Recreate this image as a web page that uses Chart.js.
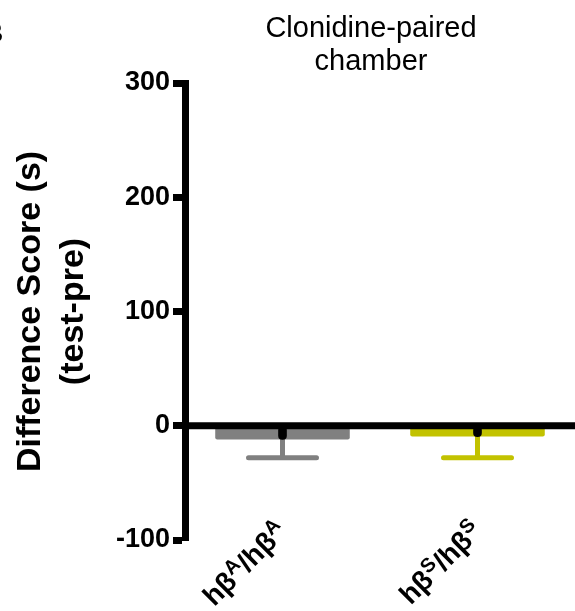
<!DOCTYPE html>
<html>
<head>
<meta charset="utf-8">
<script src="https://cdn.jsdelivr.net/npm/chart.js@4.4.1/dist/chart.umd.min.js"></script>
<style>
  html, body { margin: 0; padding: 0; background: #fff; }
  #wrap { width: 575px; height: 611px; position: relative; }
</style>
</head>
<body>
<div id="wrap"><canvas id="chart"></canvas></div>
<script>
// 数据
const groups = ['hβA/hβA', 'hβS/hβS'];
const groupLabelParts = [
  [['hβ', false], ['A', true], ['/hβ', false], ['A', true]],
  [['hβ', false], ['S', true], ['/hβ', false], ['S', true]]
];
const means = [-12, -9.5];
const sems = [16, 18.5];
const barColors = ['#808080', '#c2c200'];
const yTicks = [-100, 0, 100, 200, 300];

const FONT = '"Liberation Sans", Arial, sans-serif';

// 标题、零线、误差线、x轴标签
const decorPlugin = {
  id: 'decor',
  afterDatasetDraw(chart, args) {
    // 只在柱子画完后画（均值标记之前）
    if (args.index !== 0) return;
    const ctx = chart.ctx;
    const y = chart.scales.y;
    const area = chart.chartArea;

    // 误差线（只画向下的一侧）
    args.meta.data.forEach((bar, i) => {
      const yMean = y.getPixelForValue(means[i]);
      const yLow = y.getPixelForValue(means[i] - sems[i]);
      ctx.save();
      ctx.strokeStyle = barColors[i];
      ctx.lineWidth = 5;
      ctx.lineCap = 'round';
      ctx.beginPath();
      ctx.moveTo(bar.x, yMean);
      ctx.lineTo(bar.x, yLow);
      ctx.moveTo(bar.x - 34, yLow);
      ctx.lineTo(bar.x + 34, yLow);
      ctx.stroke();
      ctx.restore();
    });

    // 零线
    const y0 = y.getPixelForValue(0);
    ctx.save();
    ctx.strokeStyle = '#000';
    ctx.lineWidth = 7;
    ctx.beginPath();
    ctx.moveTo(area.left, y0);
    ctx.lineTo(area.right, y0);
    ctx.stroke();
    ctx.restore();
  },
  afterDraw(chart) {
    const ctx = chart.ctx;
    const x = chart.scales.x;

    // 图标题
    ctx.save();
    ctx.fillStyle = '#000';
    ctx.font = '29px ' + FONT;
    ctx.textAlign = 'center';
    ctx.textBaseline = 'alphabetic';
    ctx.fillText('Clonidine-paired', 371, 37);
    ctx.fillText('chamber', 371, 70);
    ctx.font = 'bold 28px ' + FONT;
    ctx.textAlign = 'left';
    ctx.fillText('B', -17, 42);
    ctx.restore();

    // x轴标签（带上标）
    groupLabelParts.forEach((parts, i) => {
      const px = x.getPixelForValue(i);
      ctx.save();
      ctx.fillStyle = '#000';
      let total = 0;
      parts.forEach(([t, sup]) => {
        ctx.font = (sup ? 'bold 20px ' : 'bold 28px ') + FONT;
        total += ctx.measureText(t).width;
      });
      ctx.translate(px + 6, chart.chartArea.bottom - 7);
      ctx.rotate(-Math.PI / 4);
      let cx = -total;
      ctx.textAlign = 'left';
      ctx.textBaseline = 'alphabetic';
      parts.forEach(([t, sup]) => {
        ctx.font = (sup ? 'bold 20px ' : 'bold 28px ') + FONT;
        ctx.fillText(t, cx, sup ? -10 : 0);
        cx += ctx.measureText(t).width;
      });
      ctx.restore();
    });
  }
};

const ctx = document.getElementById('chart').getContext('2d');
new Chart(ctx, {
  type: 'bar',
  data: {
    labels: groups,
    datasets: [
      {
        data: means,
        backgroundColor: barColors,
        borderWidth: 0,
        borderRadius: 2,
        borderSkipped: false,
        barPercentage: 0.69,
        categoryPercentage: 1.0,
        order: 2
      },
      {
        // 均值标记：从0到均值的黑色短杆
        data: means.map(m => [m, 0]),
        backgroundColor: '#000',
        borderWidth: 0,
        borderRadius: 4,
        borderSkipped: false,
        barThickness: 8,
        grouped: false,
        order: 1
      }
    ]
  },
  options: {
    responsive: true,
    maintainAspectRatio: false,
    animation: false,
    layout: { padding: { top: 83, bottom: 71, left: 0, right: 0 } },
    plugins: {
      legend: { display: false },
      tooltip: { enabled: false },
      title: { display: false }
    },
    scales: {
      x: {
        display: false,
        offset: true
      },
      y: {
        min: -100,
        max: 300,
        afterBuildTicks(scale) {
          scale.ticks = yTicks.map(v => ({ value: v }));
        },
        afterFit(scale) {
          scale.width = 185;
        },
        border: { display: true, color: '#000', width: 7 },
        grid: {
          drawOnChartArea: false,
          drawTicks: true,
          tickLength: 12,
          tickWidth: 7,
          tickColor: '#000'
        },
        ticks: {
          color: '#000',
          padding: 3,
          font: { family: FONT, size: 27, weight: 'bold' }
        },
        title: {
          display: true,
          text: ['Difference Score (s)', '(test-pre)'],
          color: '#000',
          padding: { top: 10, bottom: 4 },
          font: { family: FONT, size: 34, weight: 'bold', lineHeight: 1.24 }
        }
      }
    }
  },
  plugins: [decorPlugin]
});
</script>
</body>
</html>
